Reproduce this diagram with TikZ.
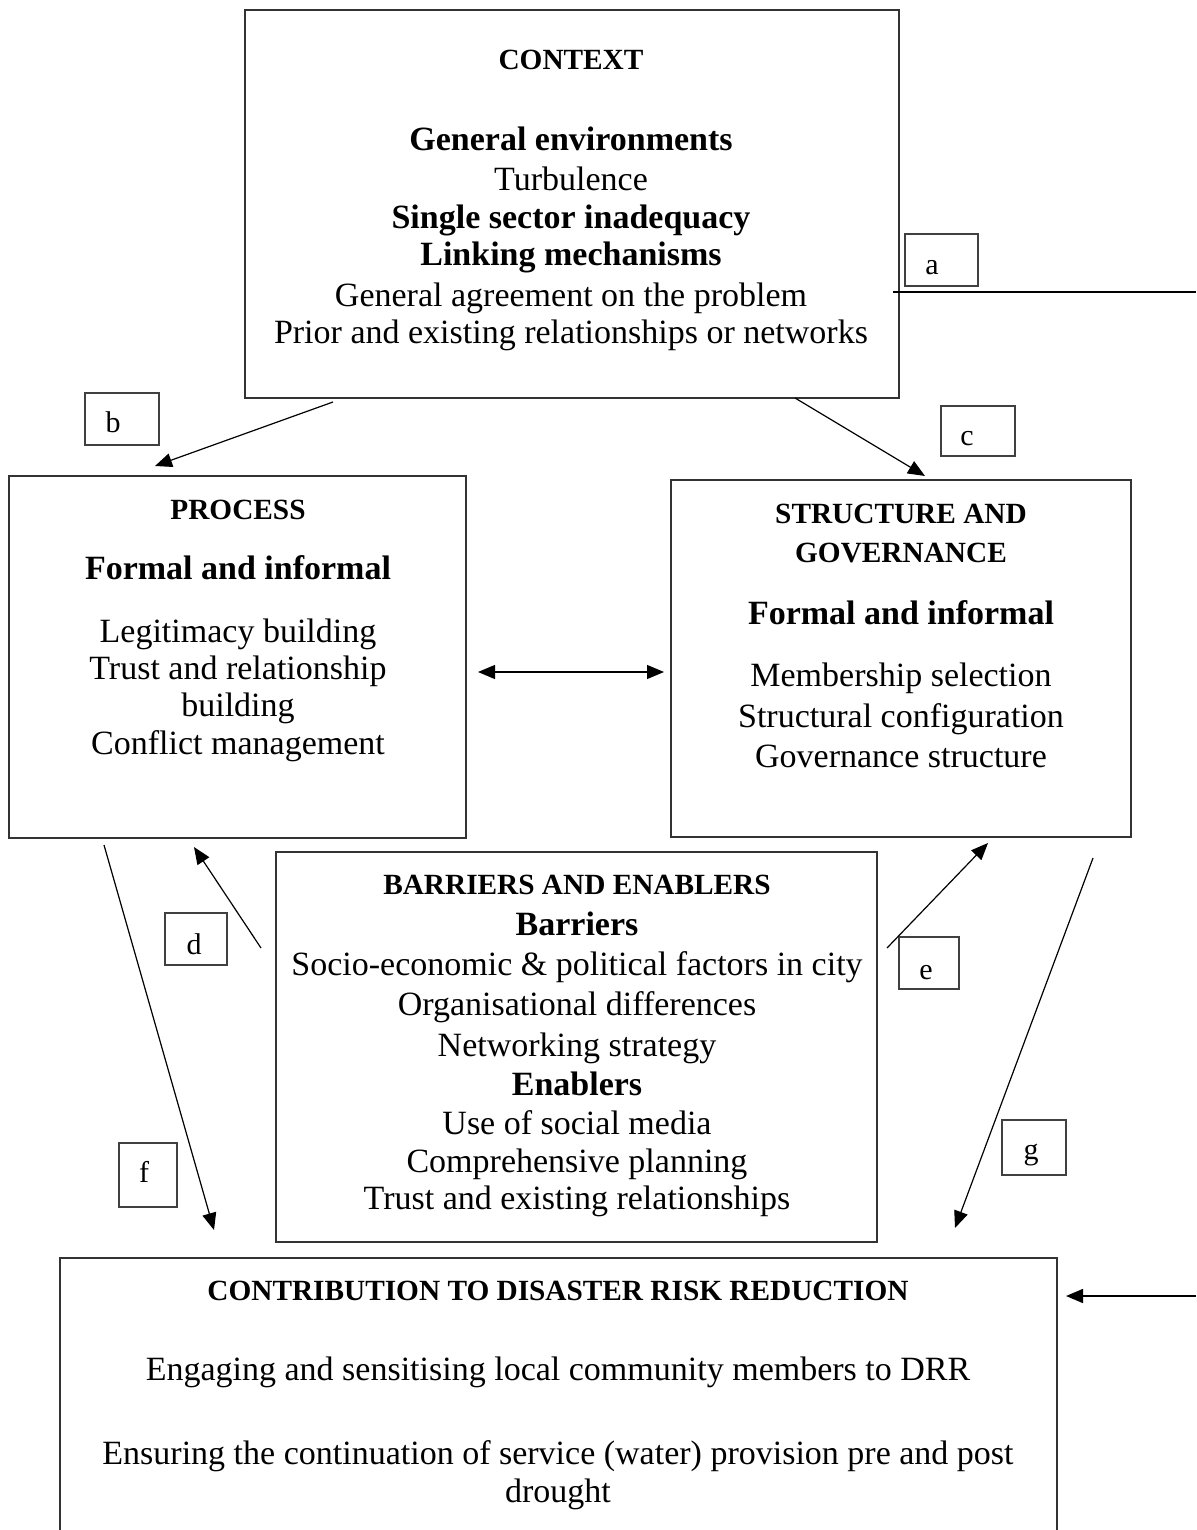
\documentclass[tikz,border=0pt]{standalone}
\usepackage{fontspec}
\setmainfont{Liberation Serif}
\usetikzlibrary{arrows.meta}
\tikzset{
  box/.style={draw=black!80, line width=1.2pt, rectangle, inner sep=0pt},
  lbl/.style={draw=black!75, line width=1.2pt, rectangle, inner sep=0pt},
  letter/.style={font=\fontsize{30}{36}\selectfont, anchor=mid, inner sep=0pt, yshift=-7pt},
  txt/.style={font=\fontsize{34}{38}\selectfont, anchor=mid, inner sep=0pt, yshift=-10pt},
  btxt/.style={font=\fontsize{34}{38}\selectfont\bfseries, anchor=mid, inner sep=0pt, yshift=-10pt},
  htxt/.style={font=\fontsize{29.3}{36}\selectfont\bfseries, anchor=mid, inner sep=0pt, yshift=-10pt},
  conn/.style={line width=1.2pt, -{Triangle[length=17pt,width=14pt]}},
  plain/.style={line width=1.2pt},
}
\begin{document}
\begin{tikzpicture}[x=1pt,y=-1pt]
\clip (0,0) rectangle (1196,1530);
\fill[white] (0,0) rectangle (1196,1530);

% main boxes
\node[box, minimum width=654, minimum height=388] (context) at (572,204) {};
\node[box, minimum width=457, minimum height=362] (process) at (237.5,657) {};
\node[box, minimum width=460, minimum height=357] (structure) at (901,658.5) {};
\node[box, minimum width=601, minimum height=390] (barriers) at (576.5,1047) {};
\node[box, minimum width=997, minimum height=320] (contribution) at (558.5,1418) {};

% label boxes
\node[lbl, minimum width=73, minimum height=52] (la) at (941.5,260) {};
\node[lbl, minimum width=74, minimum height=52] (lb) at (122,419) {};
\node[lbl, minimum width=74, minimum height=50] (lc) at (978,431) {};
\node[lbl, minimum width=62, minimum height=52] (ld) at (196,939) {};
\node[lbl, minimum width=60, minimum height=52] (le) at (929,963) {};
\node[lbl, minimum width=58, minimum height=64] (lf) at (148,1175) {};
\node[lbl, minimum width=64, minimum height=55] (lg) at (1034,1147.5) {};
\node[letter] (ta) at (932,265) {a};
\node[letter] (tb) at (113,423) {b};
\node[letter] (tc) at (967,436) {c};
\node[letter] (td) at (194,945) {d};
\node[letter] (te) at (926,970) {e};
\node[letter] (tf) at (144,1173) {f};
\node[letter] (tg) at (1031,1150) {g};

% CONTEXT text
\node[htxt] (c1) at (571,57) {CONTEXT};
\node[btxt] (c2) at (571,138) {General environments};
\node[txt]  (c3) at (571,178) {Turbulence};
\node[btxt] (c4) at (571,216) {Single sector inadequacy};
\node[btxt] (c5) at (571,253) {Linking mechanisms};
\node[txt]  (c6) at (571,294) {General agreement on the problem};
\node[txt]  (c7) at (571,331) {Prior and existing relationships or networks};

% PROCESS text
\node[htxt] (p1) at (238,507) {PROCESS};
\node[btxt] (p2) at (238,567) {Formal and informal};
\node[txt]  (p3) at (238,630) {Legitimacy building};
\node[txt]  (p4) at (238,667) {Trust and relationship};
\node[txt]  (p5) at (238,704) {building};
\node[txt]  (p6) at (238,742) {Conflict management};

% STRUCTURE text
\node[htxt] (s1) at (901,511) {STRUCTURE AND};
\node[htxt] (s2) at (901,550) {GOVERNANCE};
\node[btxt] (s3) at (901,612) {Formal and informal};
\node[txt]  (s4) at (901,674) {Membership selection};
\node[txt]  (s5) at (901,715) {Structural configuration};
\node[txt]  (s6) at (901,755) {Governance structure};

% BARRIERS text
\node[htxt] (b1) at (577,882) {BARRIERS AND ENABLERS};
\node[btxt] (b2) at (577,923) {Barriers};
\node[txt]  (b3) at (577,963) {Socio-economic \& political factors in city};
\node[txt]  (b4) at (577,1003) {Organisational differences};
\node[txt]  (b5) at (577,1044) {Networking strategy};
\node[btxt] (b6) at (577,1083) {Enablers};
\node[txt]  (b7) at (577,1122) {Use of social media};
\node[txt]  (b8) at (577,1160) {Comprehensive planning};
\node[txt]  (b9) at (577,1197) {Trust and existing relationships};

% CONTRIBUTION text
\node[htxt] (d1) at (558,1288) {CONTRIBUTION TO DISASTER RISK REDUCTION};
\node[txt]  (d2) at (558,1368) {Engaging and sensitising local community members to DRR};
\node[txt]  (d3) at (558,1452) {Ensuring the continuation of service (water) provision pre and post};
\node[txt]  (d4) at (558,1490) {drought};

% connector end points
\coordinate (aL) at (893,292);
\coordinate (aR) at (1196,292);
\coordinate (bS) at (333,402);
\coordinate (bE) at (155,466);
\coordinate (cS) at (795,398);
\coordinate (cE) at (925,476);
\coordinate (hL) at (478,672);
\coordinate (hR) at (664,672);
\coordinate (dS) at (261,948);
\coordinate (dE) at (194,847);
\coordinate (eS) at (887,948);
\coordinate (eE) at (988,843);
\coordinate (fS) at (104,845);
\coordinate (fE) at (214,1230);
\coordinate (gS) at (1093,858);
\coordinate (gE) at (955,1228);
\coordinate (rS) at (1196,1296);
\coordinate (rE) at (1066,1296);

% connectors
\draw[plain, line width=1.6pt] (aL) -- (aR);
\draw[conn] (bS) -- (bE);
\draw[conn] (cS) -- (cE);
\draw[conn, {Triangle[length=17pt,width=14pt]}-{Triangle[length=17pt,width=14pt]}] (hL) -- (hR);
\draw[conn] (dS) -- (dE);
\draw[conn] (eS) -- (eE);
\draw[conn] (fS) -- (fE);
\draw[conn] (gS) -- (gE);
\draw[conn, line width=1.6pt] (rS) -- (rE);
\end{tikzpicture}
\end{document}
